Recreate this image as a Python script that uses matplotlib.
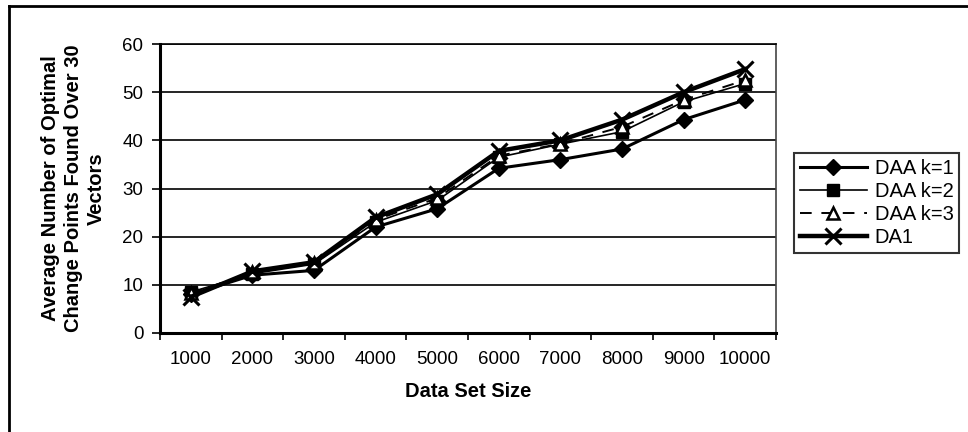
import numpy as np
import matplotlib
matplotlib.use("Agg")
import matplotlib.pyplot as plt
from matplotlib.lines import Line2D

plt.rcParams['font.family'] = ['Liberation Sans', 'DejaVu Sans']

sizes = ['1000', '2000', '3000', '4000', '5000', '6000', '7000', '8000', '9000', '10000']
daa_k1 = [8.0, 12.0, 13.0, 22.0, 25.8, 34.2, 36.0, 38.2, 44.3, 48.4]
daa_k2 = [8.5, 12.3, 14.3, 23.0, 27.5, 36.5, 39.2, 41.8, 48.0, 51.8]
daa_k3 = [8.2, 12.6, 14.5, 23.5, 28.0, 36.8, 39.3, 42.8, 48.4, 52.5]
da1 = [7.5, 12.8, 14.7, 24.0, 28.8, 37.8, 40.0, 44.3, 50.0, 54.8]

fig = plt.figure(figsize=(9.68, 4.32), dpi=100)
ax = fig.add_axes([0.1653, 0.2292, 0.6364, 0.6689])

x = np.arange(len(sizes))
ax.plot(x, daa_k1, color='black', lw=2.2, marker='D', ms=8, label='DAA k=1', zorder=3)
ax.plot(x, daa_k2, color='black', lw=1.2, marker='s', ms=8, label='DAA k=2', zorder=4)
ax.plot(x, daa_k3, color='black', lw=1.4, ls=(0, (6, 5)), marker='^', ms=8,
        mfc='white', mec='black', mew=1.8, label='DAA k=3', zorder=5)
ax.plot(x, da1, color='black', lw=3.2, marker='x', ms=11, mew=2.2, label='DA1', zorder=6)

ax.set_xlim(-0.5, 9.5)
ax.set_ylim(0, 60)
ax.set_yticks(range(0, 61, 10))
ax.yaxis.grid(True, color='black', lw=1.2)
ax.set_axisbelow(True)

# category labels centred, tick marks on the boundaries
ax.set_xticks(x)
ax.set_xticklabels(sizes)
ax.set_xticks(np.arange(-0.5, 10, 1), minor=True)
ax.tick_params(axis='x', which='major', length=0, pad=13, labelsize=13.5)
ax.tick_params(axis='x', which='minor', length=5, width=1.2)
ax.tick_params(axis='y', length=6, width=1.2, labelsize=13.5, pad=6)

for side in ['left', 'bottom']:
    ax.spines[side].set_linewidth(2.2)
ax.spines['top'].set_linewidth(1.2)
ax.spines['right'].set_linewidth(1.2)
ax.spines['right'].set_color('#444444')

ax.set_xlabel('Data Set Size', fontsize=14.5, fontweight='bold', labelpad=10)
ax.set_ylabel('Average Number of Optimal\nChange Points Found Over 30\nVectors',
              fontsize=14.5, fontweight='bold', labelpad=12, linespacing=1.25)

leg = fig.legend(loc='upper left', bbox_to_anchor=(794 / 968, 1 - 153 / 432),
                 fontsize=14.5, frameon=True, fancybox=False, edgecolor='black',
                 handlelength=3.3, handletextpad=0.4, labelspacing=0.2,
                 borderpad=0.3, borderaxespad=0)
leg.get_frame().set_linewidth(1.5)

# outer chart frame
fig.add_artist(Line2D([9 / 968, 1.0], [1 - 6 / 432, 1 - 6 / 432], color='black', lw=2))
fig.add_artist(Line2D([9 / 968, 9 / 968], [0, 1 - 6 / 432], color='black', lw=2))

fig.savefig('out.png', dpi=100)
